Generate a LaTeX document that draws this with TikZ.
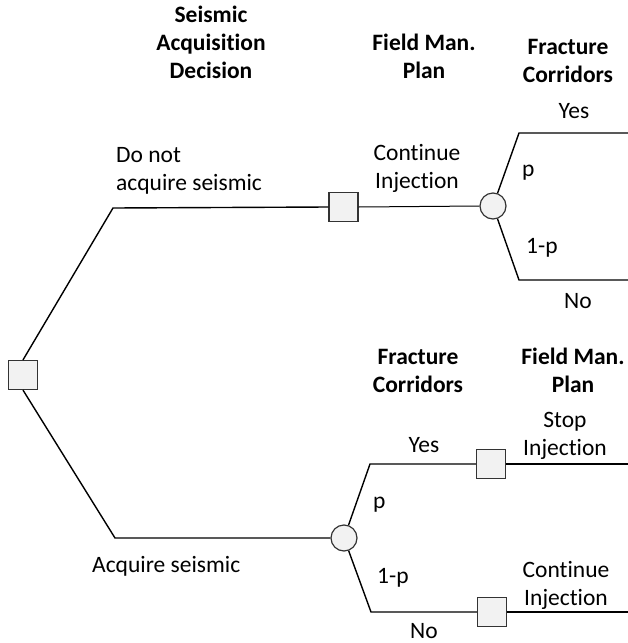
\documentclass[tikz,border=0pt]{standalone}
\usepackage{fontspec}
\setmainfont{Carlito}[Ligatures=NoCommon]
\begin{document}
\begin{tikzpicture}[x=1pt,y=-1pt,
  every node/.style={font=\fontsize{23.5}{28}\selectfont, text=black},
  branch/.style={line width=1.4pt, black},
  decision/.style={draw=black!80, line width=1.2pt, fill=black!5, minimum size=29pt, inner sep=0pt},
  chance/.style={circle, draw=black!80, line width=1.2pt, fill=black!5, minimum size=26pt, inner sep=0pt},
  head/.style={font=\fontsize{23.5}{28}\selectfont\bfseries, align=center, anchor=base},
  lbl/.style={align=center, anchor=base},
  lbll/.style={align=left, anchor=base west, inner xsep=0pt}]
\useasboundingbox (0,0) rectangle (628,643);

% decision and chance nodes
\node[decision] (root) at (23,375) {};
\node[decision] (d1) at (343.5,207) {};
\node[chance] (c1) at (493,206) {};
\node[chance] (c2) at (344,538) {};
\node[decision] (d2) at (491,464) {};
\node[decision] (d3) at (492,612) {};

% branch corners and free ends
\coordinate (tu) at (113,208);
\coordinate (bl) at (115,538);
\coordinate (c1y) at (519,133);
\coordinate (c1n) at (519,280);
\coordinate (c1ye) at (628,133);
\coordinate (c1ne) at (628,280);
\coordinate (c2y) at (370,464);
\coordinate (c2n) at (371,612);
\coordinate (d2e) at (628,464);
\coordinate (d3e) at (628,612);

% branches
\draw[branch] (root.north) -- (tu) -- (d1.west);
\draw[branch, line width=1pt] (d1.east) -- (c1.west);
\draw[branch] (c1) -- (c1y) -- (c1ye);
\draw[branch] (c1) -- (c1n) -- (c1ne);
\draw[branch] (root.south) -- (bl) -- (c2.west);
\draw[branch] (c2) -- (c2y) -- (d2.west);
\draw[branch] (d2.east) -- (d2e);
\draw[branch] (c2) -- (c2n) -- (d3.west);
\draw[branch] (d3.east) -- (d3e);

% column headings (anchored at the baseline of their last line)
\node[head] (h1) at (211,78) {Seismic\\Acquisition\\Decision};
\node[head] (h2) at (424,78) {Field Man.\\Plan};
\node[head] (h3) at (568,82) {Fracture\\Corridors};
\node[head] (h4) at (418,392) {Fracture\\Corridors};
\node[head] (h5) at (573,392) {Field Man.\\Plan};

% branch labels, upper tree
\node[lbll] (t1) at (116,190) {Do not\\acquire seismic};
\node[lbl] (t2) at (417,188) {Continue\\Injection};
\node[lbl] (t3) at (574,118) {Yes};
\node[lbll] (t4) at (522,176) {p};
\node[lbll] (t5) at (526,253) {1-p};
\node[lbl] (t6) at (578,308) {No};

% branch labels, lower tree
\node[lbll] (b1) at (92,572) {Acquire seismic};
\node[lbl] (b2) at (424,452) {Yes};
\node[lbll] (b3) at (373,508) {p};
\node[lbll] (b4) at (377,583) {1-p};
\node[lbl] (b5) at (424,638) {No};
\node[lbl] (b6) at (565,455) {Stop\\Injection};
\node[lbl] (b7) at (566,605) {Continue\\Injection};
\end{tikzpicture}
\end{document}
